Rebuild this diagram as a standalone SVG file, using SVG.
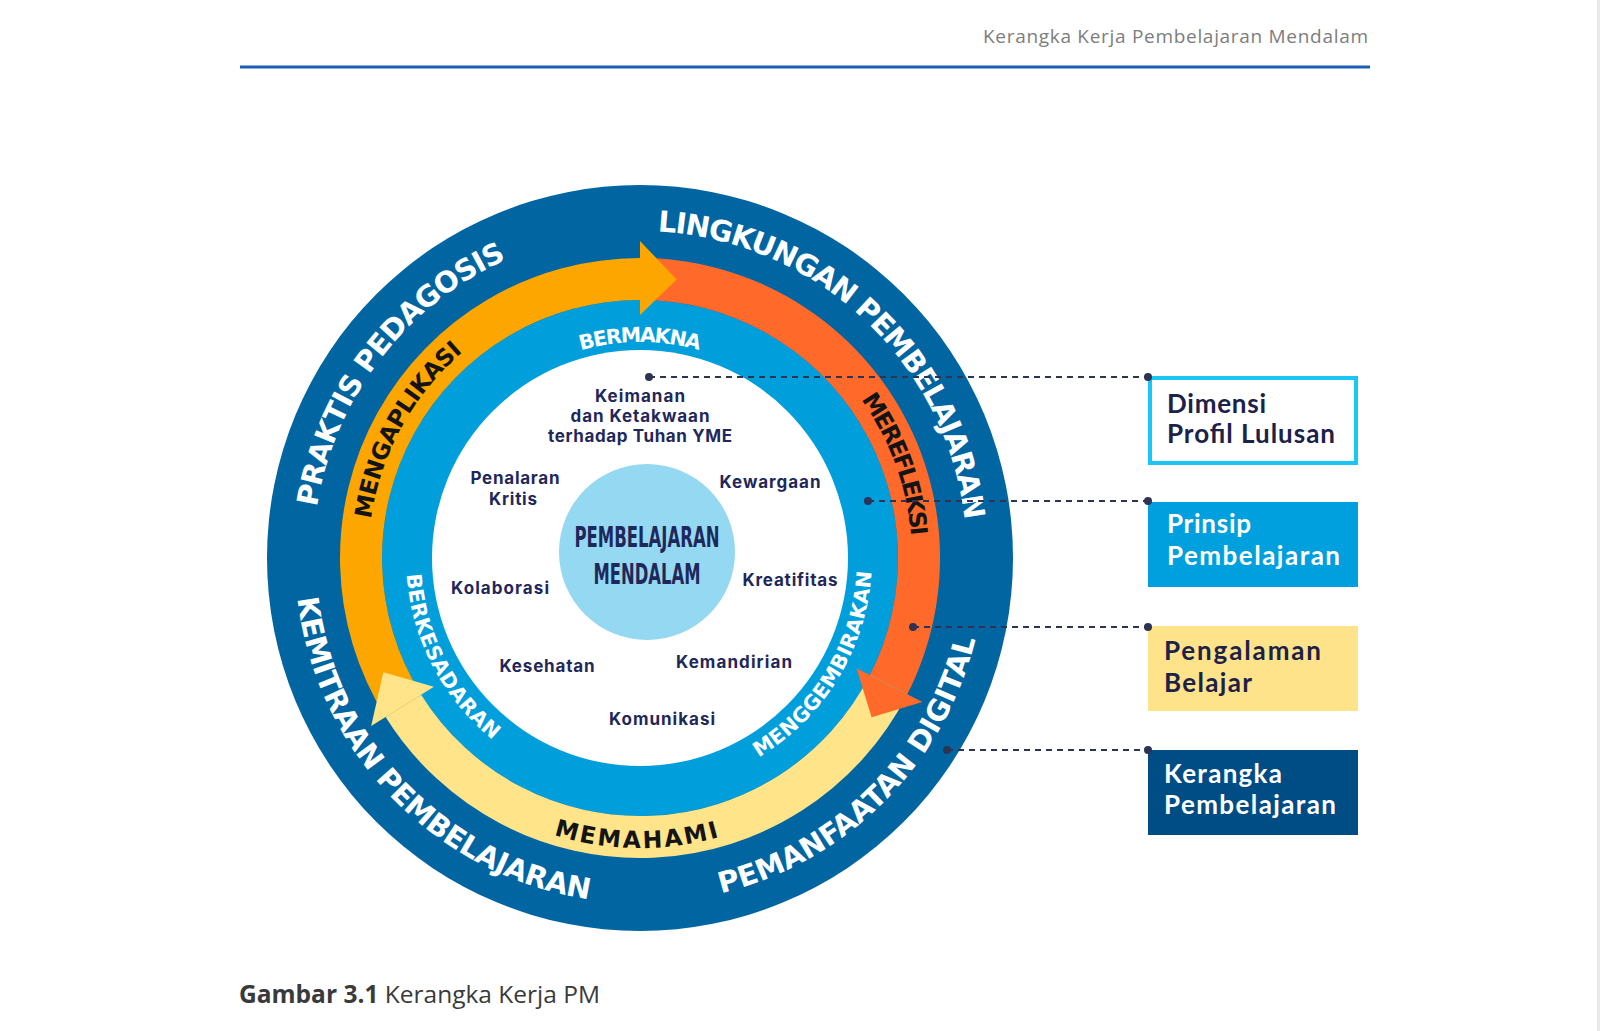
<svg xmlns="http://www.w3.org/2000/svg" width="1600" height="1031" viewBox="0 0 1600 1031">
<style>
.hdr{font-family:"Open Sans","Liberation Sans",sans-serif;font-size:19px;fill:#7d7d7d}
.cap{font-family:"Open Sans","Liberation Sans",sans-serif;font-size:24.5px;fill:#3a3a3a}
.ro{font-family:"DejaVu Sans",Inter,sans-serif;font-weight:700;font-size:29px;fill:#ffffff}
.rm{font-family:"DejaVu Sans",Inter,sans-serif;font-weight:700;font-size:23.5px;fill:#141414}
.ri{font-family:"DejaVu Sans",Inter,sans-serif;font-weight:700;font-size:20.5px;fill:#ffffff}
.dim{font-family:Inter,"Open Sans",sans-serif;font-weight:700;font-size:17px;fill:#1f285a;text-anchor:middle}
.core{font-family:"DejaVu Sans Condensed","Roboto",sans-serif;font-weight:700;font-size:28px;fill:#1f285a;text-anchor:middle}
.bx{font-family:Lato,"Open Sans",sans-serif;font-weight:700;font-size:26px}
.dash{stroke:#2d3352;stroke-width:2;stroke-dasharray:6 5;fill:none}
.dot{fill:#2d3352}
</style>
<defs>
<path id="cw327" d="M640,885 A327,327 0 0 1 640,231 A327,327 0 0 1 640,885"/>
<path id="ccw345" d="M640,213 A345,345 0 0 0 640,903 A345,345 0 0 0 640,213"/>
<path id="cw272" d="M640,830 A272,272 0 0 1 640,286 A272,272 0 0 1 640,830"/>
<path id="ccw290" d="M640,268 A290,290 0 0 0 640,848 A290,290 0 0 0 640,268"/>
<path id="cw216" d="M640,774 A216,216 0 0 1 640,342 A216,216 0 0 1 640,774"/>
<path id="ccw232" d="M640,326 A232,232 0 0 0 640,790 A232,232 0 0 0 640,326"/>
<path id="ccw234" d="M640,324 A234,234 0 0 0 640,792 A234,234 0 0 0 640,324"/>
</defs>
<rect x="0" y="0" width="1600" height="1031" fill="#ffffff"/>
<rect x="1597" y="0" width="3" height="1031" fill="#e9e9e9"/>
<g id="header">
<text class="hdr" x="1368" y="43" text-anchor="end" textLength="385">Kerangka Kerja Pembelajaran Mendalam</text>
<rect x="240" y="65.5" width="1130" height="3" fill="#1c5eb5"/>
</g>
<g id="ring-kerangka">
<circle cx="640" cy="558" r="373" fill="#0065a1"/>
</g>
<g id="ring-prinsip">
<circle cx="640" cy="558" r="258" fill="#009edb"/>
</g>
<g id="profil-area">
<circle cx="640" cy="558" r="208" fill="#ffffff"/>
</g>
<g id="ring-pengalaman">
<path d="M385.6,717.0 A300,300 0 0 1 640,258 L640,300 A258,258 0 0 0 421.2,694.7 Z" fill="#fea600"/>
<path d="M640,258 A300,300 0 0 1 907.3,694.2 L869.9,675.1 A258,258 0 0 0 640,300 Z" fill="#ff6a2b"/>
<path d="M907.3,694.2 A300,300 0 0 1 385.6,717.0 L421.2,694.7 A258,258 0 0 0 869.9,675.1 Z" fill="#ffe48a"/>
<polygon points="640,315 640,241 676.7,279.4" fill="#fea600"/>
<polygon points="856.5,668.3 922.4,701.9 871.6,717.2" fill="#ff6a2b"/>
<polygon points="433.9,686.8 371.2,726.0 383.3,672.3" fill="#ffe48a"/>
</g>
<g id="ring-labels">
<text class="ro"><textPath href="#cw327" startOffset="35.4%" text-anchor="middle" textLength="325">PRAKTIS PEDAGOSIS</textPath></text>
<text class="ro"><textPath href="#cw327" startOffset="62%" text-anchor="middle" textLength="458">LINGKUNGAN PEMBELAJARAN</textPath></text>
<text class="ro"><textPath href="#ccw345" startOffset="37.25%" text-anchor="middle" textLength="450">KEMITRAAN PEMBELAJARAN</textPath></text>
<text class="ro"><textPath href="#ccw345" startOffset="62.5%" text-anchor="middle" textLength="378">PEMANFAATAN DIGITAL</textPath></text>
<text class="rm"><textPath href="#cw272" startOffset="33%" text-anchor="middle" textLength="195">MENGAPLIKASI</textPath></text>
<text class="rm"><textPath href="#cw272" startOffset="69.4%" text-anchor="middle" textLength="147">MEREFLEKSI</textPath></text>
<text class="rm"><textPath href="#ccw290" startOffset="49.8%" text-anchor="middle" textLength="168">MEMAHAMI</textPath></text>
<text class="ri"><textPath href="#cw216" startOffset="50%" text-anchor="middle" textLength="120">BERMAKNA</textPath></text>
<text class="ri"><textPath href="#ccw232" startOffset="66.3%" text-anchor="middle" textLength="226">MENGGEMBIRAKAN</textPath></text>
<text class="ri"><textPath href="#ccw234" startOffset="32.65%" text-anchor="middle" textLength="192">BERKESADARAN</textPath></text>
</g>
<g id="dimensi-labels">
<text class="dim" x="640" y="402" textLength="90">Keimanan</text>
<text class="dim" x="640" y="422" textLength="139">dan Ketakwaan</text>
<text class="dim" x="640" y="442" textLength="184">terhadap Tuhan YME</text>
<text class="dim" x="515" y="484" textLength="89">Penalaran</text>
<text class="dim" x="513" y="505" textLength="48">Kritis</text>
<text class="dim" x="770" y="488" textLength="101">Kewargaan</text>
<text class="dim" x="500" y="594" textLength="98">Kolaborasi</text>
<text class="dim" x="790" y="586" textLength="95">Kreatifitas</text>
<text class="dim" x="547" y="672" textLength="95">Kesehatan</text>
<text class="dim" x="734" y="668" textLength="116">Kemandirian</text>
<text class="dim" x="662" y="725" textLength="106">Komunikasi</text>
</g>
<g id="core">
<circle cx="647" cy="552" r="88" fill="#95d8f1"/>
<text class="core" x="647" y="547" textLength="145" lengthAdjust="spacingAndGlyphs">PEMBELAJARAN</text>
<text class="core" x="647" y="584" textLength="107" lengthAdjust="spacingAndGlyphs">MENDALAM</text>
</g>
<g id="connectors">
<line class="dash" x1="649" y1="377" x2="1148" y2="377"/>
<line class="dash" x1="868" y1="501" x2="1148" y2="501"/>
<line class="dash" x1="913" y1="627" x2="1148" y2="627"/>
<line class="dash" x1="947" y1="750" x2="1148" y2="750"/>
<circle class="dot" cx="649" cy="377" r="4"/>
<circle class="dot" cx="868" cy="501" r="4"/>
<circle class="dot" cx="913" cy="627" r="4"/>
<circle class="dot" cx="947" cy="750" r="4"/>
</g>
<g id="box-dimensi">
<rect x="1150" y="378" width="206" height="85" fill="#ffffff" stroke="#19c6f4" stroke-width="4"/>
<circle class="dot" cx="1148" cy="377" r="4"/>
<text class="bx" x="1167" y="413" fill="#1b2148" textLength="99">Dimensi</text>
<text class="bx" x="1167" y="443" fill="#1b2148" textLength="168">Profil Lulusan</text>
</g>
<g id="box-prinsip">
<rect x="1148" y="502" width="210" height="85" fill="#009fde"/>
<circle class="dot" cx="1148" cy="501" r="4"/>
<text class="bx" x="1167" y="533" fill="#ffffff" textLength="84">Prinsip</text>
<text class="bx" x="1167" y="565" fill="#ffffff" textLength="173">Pembelajaran</text>
</g>
<g id="box-pengalaman">
<rect x="1148" y="626" width="210" height="85" fill="#ffe38a"/>
<circle class="dot" cx="1148" cy="627" r="4"/>
<text class="bx" x="1164" y="660" fill="#1b2148" textLength="157">Pengalaman</text>
<text class="bx" x="1164" y="692" fill="#1b2148" textLength="88">Belajar</text>
</g>
<g id="box-kerangka">
<rect x="1148" y="750" width="210" height="85" fill="#004c85"/>
<circle class="dot" cx="1148" cy="750" r="4"/>
<text class="bx" x="1164" y="783" fill="#ffffff" textLength="118">Kerangka</text>
<text class="bx" x="1164" y="814" fill="#ffffff" textLength="172">Pembelajaran</text>
</g>
<g id="caption">
<text class="cap" x="239" y="1003"><tspan font-weight="700">Gambar 3.1</tspan> Kerangka Kerja PM</text>
</g>
</svg>
